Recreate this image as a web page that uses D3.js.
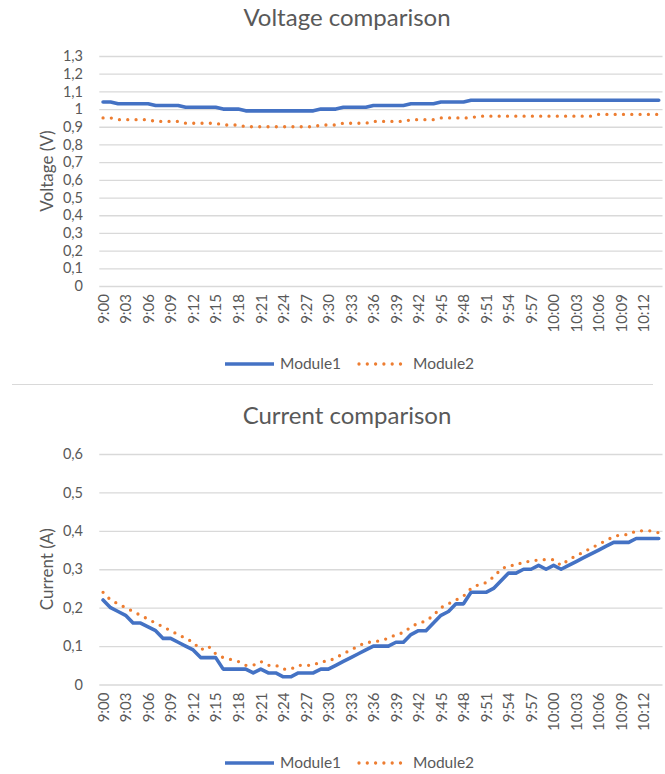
<!DOCTYPE html>
<html>
<head>
<meta charset="utf-8">
<script src="https://cdn.jsdelivr.net/npm/d3@7"></script>
<style>
  html, body { margin: 0; padding: 0; background: #fff; }
  svg { display: block; }
  text { font-family: Lato, "Open Sans", sans-serif; fill: #595959; }
</style>
</head>
<body>
<div id="chart"></div>
<script>
// Minute-by-minute readings from 9:00 to 10:14
const times = [
  "9:00","9:01","9:02","9:03","9:04","9:05","9:06","9:07","9:08","9:09",
  "9:10","9:11","9:12","9:13","9:14","9:15","9:16","9:17","9:18","9:19",
  "9:20","9:21","9:22","9:23","9:24","9:25","9:26","9:27","9:28","9:29",
  "9:30","9:31","9:32","9:33","9:34","9:35","9:36","9:37","9:38","9:39",
  "9:40","9:41","9:42","9:43","9:44","9:45","9:46","9:47","9:48","9:49",
  "9:50","9:51","9:52","9:53","9:54","9:55","9:56","9:57","9:58","9:59",
  "10:00","10:01","10:02","10:03","10:04","10:05","10:06","10:07","10:08","10:09",
  "10:10","10:11","10:12","10:13","10:14"
];

const voltageModule1 = [
  1.04,1.04,1.03,1.03,1.03,1.03,1.03,1.02,1.02,1.02,
  1.02,1.01,1.01,1.01,1.01,1.01,1.00,1.00,1.00,0.99,
  0.99,0.99,0.99,0.99,0.99,0.99,0.99,0.99,0.99,1.00,
  1.00,1.00,1.01,1.01,1.01,1.01,1.02,1.02,1.02,1.02,
  1.02,1.03,1.03,1.03,1.03,1.04,1.04,1.04,1.04,1.05,
  1.05,1.05,1.05,1.05,1.05,1.05,1.05,1.05,1.05,1.05,
  1.05,1.05,1.05,1.05,1.05,1.05,1.05,1.05,1.05,1.05,
  1.05,1.05,1.05,1.05,1.05
];

const voltageModule2 = [
  0.95,0.95,0.94,0.94,0.94,0.94,0.94,0.93,0.93,0.93,
  0.93,0.92,0.92,0.92,0.92,0.92,0.91,0.91,0.91,0.90,
  0.90,0.90,0.90,0.90,0.90,0.90,0.90,0.90,0.90,0.91,
  0.91,0.91,0.92,0.92,0.92,0.92,0.93,0.93,0.93,0.93,
  0.93,0.94,0.94,0.94,0.94,0.95,0.95,0.95,0.95,0.95,
  0.96,0.96,0.96,0.96,0.96,0.96,0.96,0.96,0.96,0.96,
  0.96,0.96,0.96,0.96,0.96,0.96,0.97,0.97,0.97,0.97,
  0.97,0.97,0.97,0.97,0.97
];

const currentModule1 = [
  0.22,0.20,0.19,0.18,0.16,0.16,0.15,0.14,0.12,0.12,
  0.11,0.10,0.09,0.07,0.07,0.07,0.04,0.04,0.04,0.04,
  0.03,0.04,0.03,0.03,0.02,0.02,0.03,0.03,0.03,0.04,
  0.04,0.05,0.06,0.07,0.08,0.09,0.10,0.10,0.10,0.11,
  0.11,0.13,0.14,0.14,0.16,0.18,0.19,0.21,0.21,0.24,
  0.24,0.24,0.25,0.27,0.29,0.29,0.30,0.30,0.31,0.30,
  0.31,0.30,0.31,0.32,0.33,0.34,0.35,0.36,0.37,0.37,
  0.37,0.38,0.38,0.38,0.38
];

const currentModule2 = [
  0.24,0.22,0.21,0.20,0.19,0.18,0.17,0.16,0.15,0.14,
  0.13,0.12,0.11,0.09,0.10,0.08,0.07,0.065,0.06,0.05,
  0.05,0.06,0.05,0.05,0.04,0.04,0.05,0.05,0.05,0.06,
  0.06,0.07,0.08,0.09,0.10,0.11,0.11,0.115,0.12,0.13,
  0.135,0.15,0.16,0.165,0.18,0.20,0.21,0.22,0.23,0.25,
  0.26,0.265,0.28,0.30,0.31,0.31,0.32,0.32,0.325,0.325,
  0.325,0.31,0.325,0.335,0.345,0.355,0.365,0.375,0.385,0.39,
  0.39,0.40,0.40,0.40,0.395
];

const voltageTicks = [0,0.1,0.2,0.3,0.4,0.5,0.6,0.7,0.8,0.9,1,1.1,1.2,1.3];
const currentTicks = [0,0.1,0.2,0.3,0.4,0.5,0.6];
const seriesNames = ["Module1", "Module2"];

const W = 665, H = 774;
const COLOR1 = "#4472C4", COLOR2 = "#ED7D31", GRID = "#d9d9d9";
const FONT = "Lato, 'Open Sans', sans-serif";
const fmt = v => String(+v.toFixed(2)).replace(".", ",");

const svg = d3.select("#chart").append("svg")
  .attr("width", W).attr("height", H);

const x = d3.scalePoint().domain(times).range([99.3, 662.5]).padding(0.5);

function panel(opt) {
  const g = svg.append("g");
  const y = d3.scaleLinear().domain([0, opt.yMax]).range([opt.bottom, opt.top]);

  // title
  g.append("text")
    .attr("x", 347).attr("y", opt.titleY)
    .attr("text-anchor", "middle")
    .style("font-size", "24px")
    .text(opt.title);

  // horizontal gridlines + value labels
  const yAxis = d3.axisLeft(y).tickValues(opt.ticks).tickFormat(fmt)
    .tickSize(-(662.5 - 99.3)).tickPadding(16);
  const ya = g.append("g").attr("transform", "translate(99.3,0)").call(yAxis);
  ya.select(".domain").remove();
  ya.selectAll(".tick line").attr("stroke", GRID).attr("stroke-width", 1.3);
  ya.selectAll(".tick text")
    .attr("x", 83 - 99.3)
    .style("font-size", "14.5px").style("fill", "#595959")
    .style("font-family", FONT);

  // category labels, every third minute
  const xAxis = d3.axisBottom(x)
    .tickValues(times.filter((t, i) => i % 3 === 0))
    .tickSize(0).tickPadding(0);
  const xa = g.append("g").attr("transform", `translate(0,${opt.bottom})`).call(xAxis);
  xa.select(".domain").remove();
  xa.selectAll(".tick text")
    .attr("transform", "translate(0,8) rotate(-90)")
    .attr("x", 0).attr("y", 0).attr("dy", "0.35em")
    .attr("text-anchor", "end")
    .style("font-size", "15px").style("fill", "#595959")
    .style("font-family", FONT);

  // axis title
  g.append("text")
    .attr("transform", `translate(47,${(opt.top + opt.bottom) / 2}) rotate(-90)`)
    .attr("text-anchor", "middle").attr("dy", "0.35em")
    .style("font-size", "17px")
    .text(opt.yTitle);

  const line = d3.line().x((d, i) => x(times[i])).y(d => y(d));

  g.append("path").datum(opt.s1)
    .attr("d", line).attr("fill", "none")
    .attr("stroke", COLOR1).attr("stroke-width", 3.6)
    .attr("stroke-linejoin", "round").attr("stroke-linecap", "round");

  g.append("path").datum(opt.s2)
    .attr("d", line).attr("fill", "none")
    .attr("stroke", COLOR2).attr("stroke-width", 3.3)
    .attr("stroke-dasharray", "0 8.3")
    .attr("stroke-linecap", "round");

  // legend
  const lg = g.append("g").attr("transform", `translate(0,${opt.legendY})`);
  lg.append("line").attr("x1", 225).attr("x2", 274).attr("y1", 0).attr("y2", 0)
    .attr("stroke", COLOR1).attr("stroke-width", 3.6);
  lg.append("text").attr("x", 280).attr("y", 0).attr("dy", "0.35em")
    .style("font-size", "15.5px").text(seriesNames[0]);
  lg.append("line").attr("x1", 359).attr("x2", 407).attr("y1", 0).attr("y2", 0)
    .attr("stroke", COLOR2).attr("stroke-width", 3.3)
    .attr("stroke-dasharray", "0 8.3").attr("stroke-linecap", "round");
  lg.append("text").attr("x", 413).attr("y", 0).attr("dy", "0.35em")
    .style("font-size", "15.5px").text(seriesNames[1]);
}

panel({
  title: "Voltage comparison", titleY: 26, yTitle: "Voltage (V)",
  yMax: 1.3, ticks: voltageTicks, top: 56, bottom: 286,
  s1: voltageModule1, s2: voltageModule2, legendY: 364
});

// separator border above the second chart
svg.append("line").attr("x1", 12).attr("x2", 653).attr("y1", 384.5).attr("y2", 384.5)
  .attr("stroke", GRID).attr("stroke-width", 1);

panel({
  title: "Current comparison", titleY: 424, yTitle: "Current (A)",
  yMax: 0.6, ticks: currentTicks, top: 454, bottom: 684.5,
  s1: currentModule1, s2: currentModule2, legendY: 763
});
</script>
</body>
</html>
